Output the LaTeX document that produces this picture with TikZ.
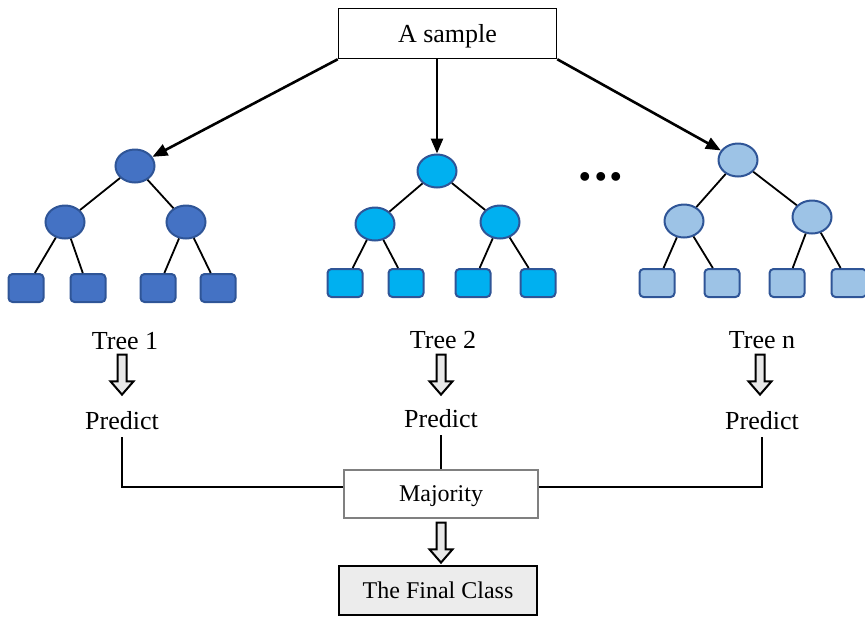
\documentclass[tikz,border=0pt]{standalone}
\usepackage{fontspec}
\setmainfont{Liberation Serif}
\usetikzlibrary{shapes.geometric,shapes.arrows,calc,arrows.meta,positioning}
\definecolor{deepblue}{HTML}{4472C4}
\definecolor{skyblue}{HTML}{00B0F0}
\definecolor{paleblue}{HTML}{9DC3E6}
\definecolor{rimblue}{HTML}{2F5597}

\begin{document}
\begin{tikzpicture}[x=0.5pt,y=-0.5pt, every node/.style={font=\fontsize{13}{15}\selectfont},
    inner/.style={draw=rimblue, line width=1pt, ellipse, minimum width=19.5pt, minimum height=16.5pt, inner sep=0pt},
    leaf/.style={draw=rimblue, line width=1pt, rounded corners=2pt, minimum width=17.5pt, minimum height=14pt, inner sep=0pt},
    branch/.style={line width=0.9pt},
    feed/.style={-{Triangle[length=7.5pt,width=6pt]}, line width=1.3pt},
    hollow/.style={single arrow, draw, line width=1pt, fill=gray!18, shape border rotate=270, minimum height=20pt, single arrow head extend=3.5pt, single arrow tip angle=82, inner sep=1.75pt}]
    \useasboundingbox (0,0) rectangle (865,617);
    \node[draw, line width=0.75pt, minimum width=109pt, minimum height=25pt, text depth=0pt] (s) at (447.5,33.5) {A sample};
    % tree 1
    \node[inner, fill=deepblue] (r1) at (135,166) {};
    \node[inner, fill=deepblue] (c1a) at (65,222) {};
    \node[inner, fill=deepblue] (c1b) at (186,222) {};
    \node[leaf, fill=deepblue] (l1a) at (26,288) {};
    \node[leaf, fill=deepblue] (l1b) at (88,288) {};
    \node[leaf, fill=deepblue] (l1c) at (158,288) {};
    \node[leaf, fill=deepblue] (l1d) at (218,288) {};
    % tree 2
    \node[inner, fill=skyblue] (r2) at (437,171) {};
    \node[inner, fill=skyblue] (c2a) at (375,224) {};
    \node[inner, fill=skyblue] (c2b) at (500,222) {};
    \node[leaf, fill=skyblue] (l2a) at (345,283) {};
    \node[leaf, fill=skyblue] (l2b) at (406,283) {};
    \node[leaf, fill=skyblue] (l2c) at (473,283) {};
    \node[leaf, fill=skyblue] (l2d) at (538,283) {};
    % tree n
    \node[inner, fill=paleblue] (rn) at (738,160) {};
    \node[inner, fill=paleblue] (cna) at (684,221) {};
    \node[inner, fill=paleblue] (cnb) at (812,217) {};
    \node[leaf, fill=paleblue] (lna) at (657,283) {};
    \node[leaf, fill=paleblue] (lnb) at (722,283) {};
    \node[leaf, fill=paleblue] (lnc) at (787,283) {};
    \node[leaf, fill=paleblue] (lnd) at (849,283) {};
    \node[anchor=base, font=\fontsize{27}{27}\selectfont\bfseries] (dots) at (601,180) {.\hspace{1pt}.\hspace{1pt}.};
    \draw[branch] (r1) -- (c1a) (r1) -- (c1b) (c1a) -- (l1a) (c1a) -- (l1b) (c1b) -- (l1c) (c1b) -- (l1d);
    \draw[branch] (r2) -- (c2a) (r2) -- (c2b) (c2a) -- (l2a) (c2a) -- (l2b) (c2b) -- (l2c) (c2b) -- (l2d);
    \draw[branch] (rn) -- (cna) (rn) -- (cnb) (cna) -- (lna) (cna) -- (lnb) (cnb) -- (lnc) (cnb) -- (lnd);
    \draw[feed] (s.south west) -- (r1);
    \draw[feed] (s.south -| r2) -- (r2);
    \draw[feed] (s.south east) -- (rn);
    % votes
    \node (t1) at (125,341) {Tree 1};
    \node (t2) at (443,340) {Tree 2};
    \node (tn) at (762,340) {Tree n};
    \node[hollow] (a1) at (122,372) {};
    \node[hollow] (a2) at (441,372) {};
    \node[hollow] (an) at (760,372) {};
    \node (p1) at (122,421) {Predict};
    \node (p2) at (441,419) {Predict};
    \node (pn) at (762,421) {Predict};
    \node[draw=gray, line width=1pt, minimum width=97pt, minimum height=24pt, text depth=0pt, font=\fontsize{12}{14}\selectfont] (m) at (441,494) {Majority};
    \node[hollow] (am) at (441,540) {};
    \node[draw, line width=1pt, fill=gray!15, minimum width=99pt, minimum height=24.5pt, font=\fontsize{12}{14}\selectfont] (fc) at (438,590.5) {The Final Class};
    \draw[branch] (p1.south) |- ($(m.west)+(0,-7)$);
    \draw[branch] (pn.south) |- ($(m.east)+(0,-7)$);
    \draw[branch] (p2.south) -- (p2.south |- m.north);
\end{tikzpicture}
\end{document}
